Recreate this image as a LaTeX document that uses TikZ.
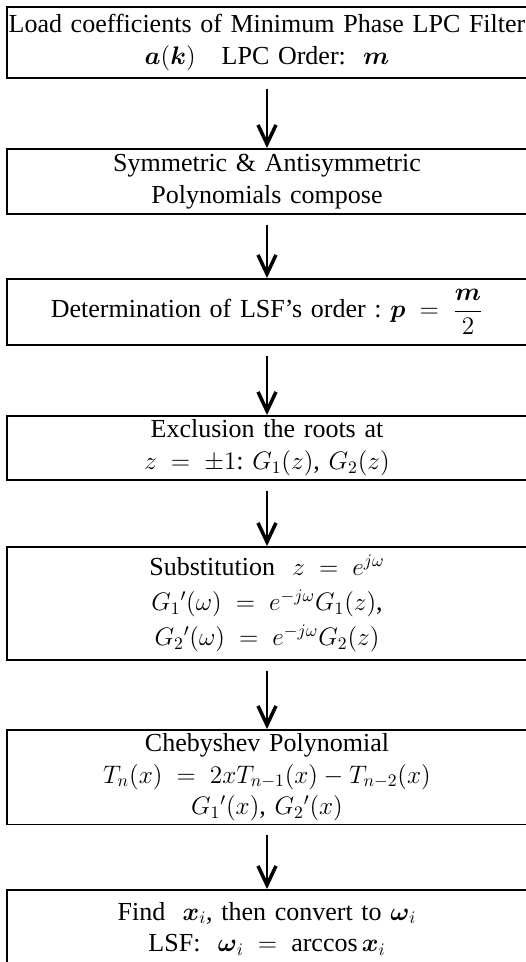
\documentclass[tikz,border=0pt]{standalone}
\usepackage{amsmath}
\usepackage{fontspec}
\setmainfont{Liberation Serif}[WordSpace=1.1]
\usetikzlibrary{arrows.meta}
\thickmuskip=5mu
\medmuskip=4mu
\begin{document}
\begin{tikzpicture}[>={Straight Barb[length=0.38cm,width=0.36cm,line width=2pt]}, block/.style={draw, line width=1pt, rectangle, anchor=north, minimum width=10.4cm, text width=10.4cm, inner xsep=0pt, inner ysep=2pt, align=center, font=\fontsize{14.8}{18}\selectfont}, flow/.style={->, line width=1.5pt, shorten <=0.2cm}]
  \useasboundingbox (0,0) rectangle (10.52,-19.24);
  \clip (0,0) rectangle (10.52,-19.24);
  \node [block, minimum height=1.42cm] (load) at (5.34,-0.12) {Load coefficients of Minimum Phase LPC Filter\\ $\boldsymbol{a}(\boldsymbol{k})$\quad LPC Order:\ \ $\boldsymbol{m}$};
  \node [block, minimum height=1.30cm] (poly) at (5.34,-2.96) {Symmetric \& Antisymmetric\\ Polynomials compose};
  \node [block, minimum height=1.32cm] (ord) at (5.34,-5.56) {Determination of LSF's order :\ $\boldsymbol{p} \;=\; \dfrac{\boldsymbol{m}}{2}$};
  \node [block, minimum height=1.28cm] (excl) at (5.34,-8.30) {Exclusion the roots at\\ $z \;=\; \pm 1$:\ $G_1(z)$,\ $G_2(z)$};
  \node [block, minimum height=2.26cm] (subst) at (5.34,-10.92) {Substitution\ \ $z \;=\; e^{j\omega}$\\[2pt] $G_1{}'(\omega) \;=\; e^{-j\omega}G_1(z)$,\\[2pt] $G_2{}'(\omega) \;=\; e^{-j\omega}G_2(z)$};
  \node [block, minimum height=1.88cm] (cheb) at (5.34,-14.58) {Chebyshev Polynomial\\ $T_n(x) \;=\; 2xT_{n-1}(x) - T_{n-2}(x)$\\ $G_1{}'(x)$,\ $G_2{}'(x)$};
  \node [block, minimum height=1.56cm] (lsf) at (5.34,-17.78) {Find\ \ $\boldsymbol{x}_i$, then convert to $\boldsymbol{\omega}_i$\\ LSF:\ \ $\boldsymbol{\omega}_i \;=\; \arccos \boldsymbol{x}_i$};

  \draw [flow] (load) -- (poly);
  \draw [flow] (poly) -- (ord);
  \draw [flow] (ord) -- (excl);
  \draw [flow] (excl) -- (subst);
  \draw [flow] (subst) -- (cheb);
  \draw [flow] (cheb) -- (lsf);
\end{tikzpicture}
\end{document}
